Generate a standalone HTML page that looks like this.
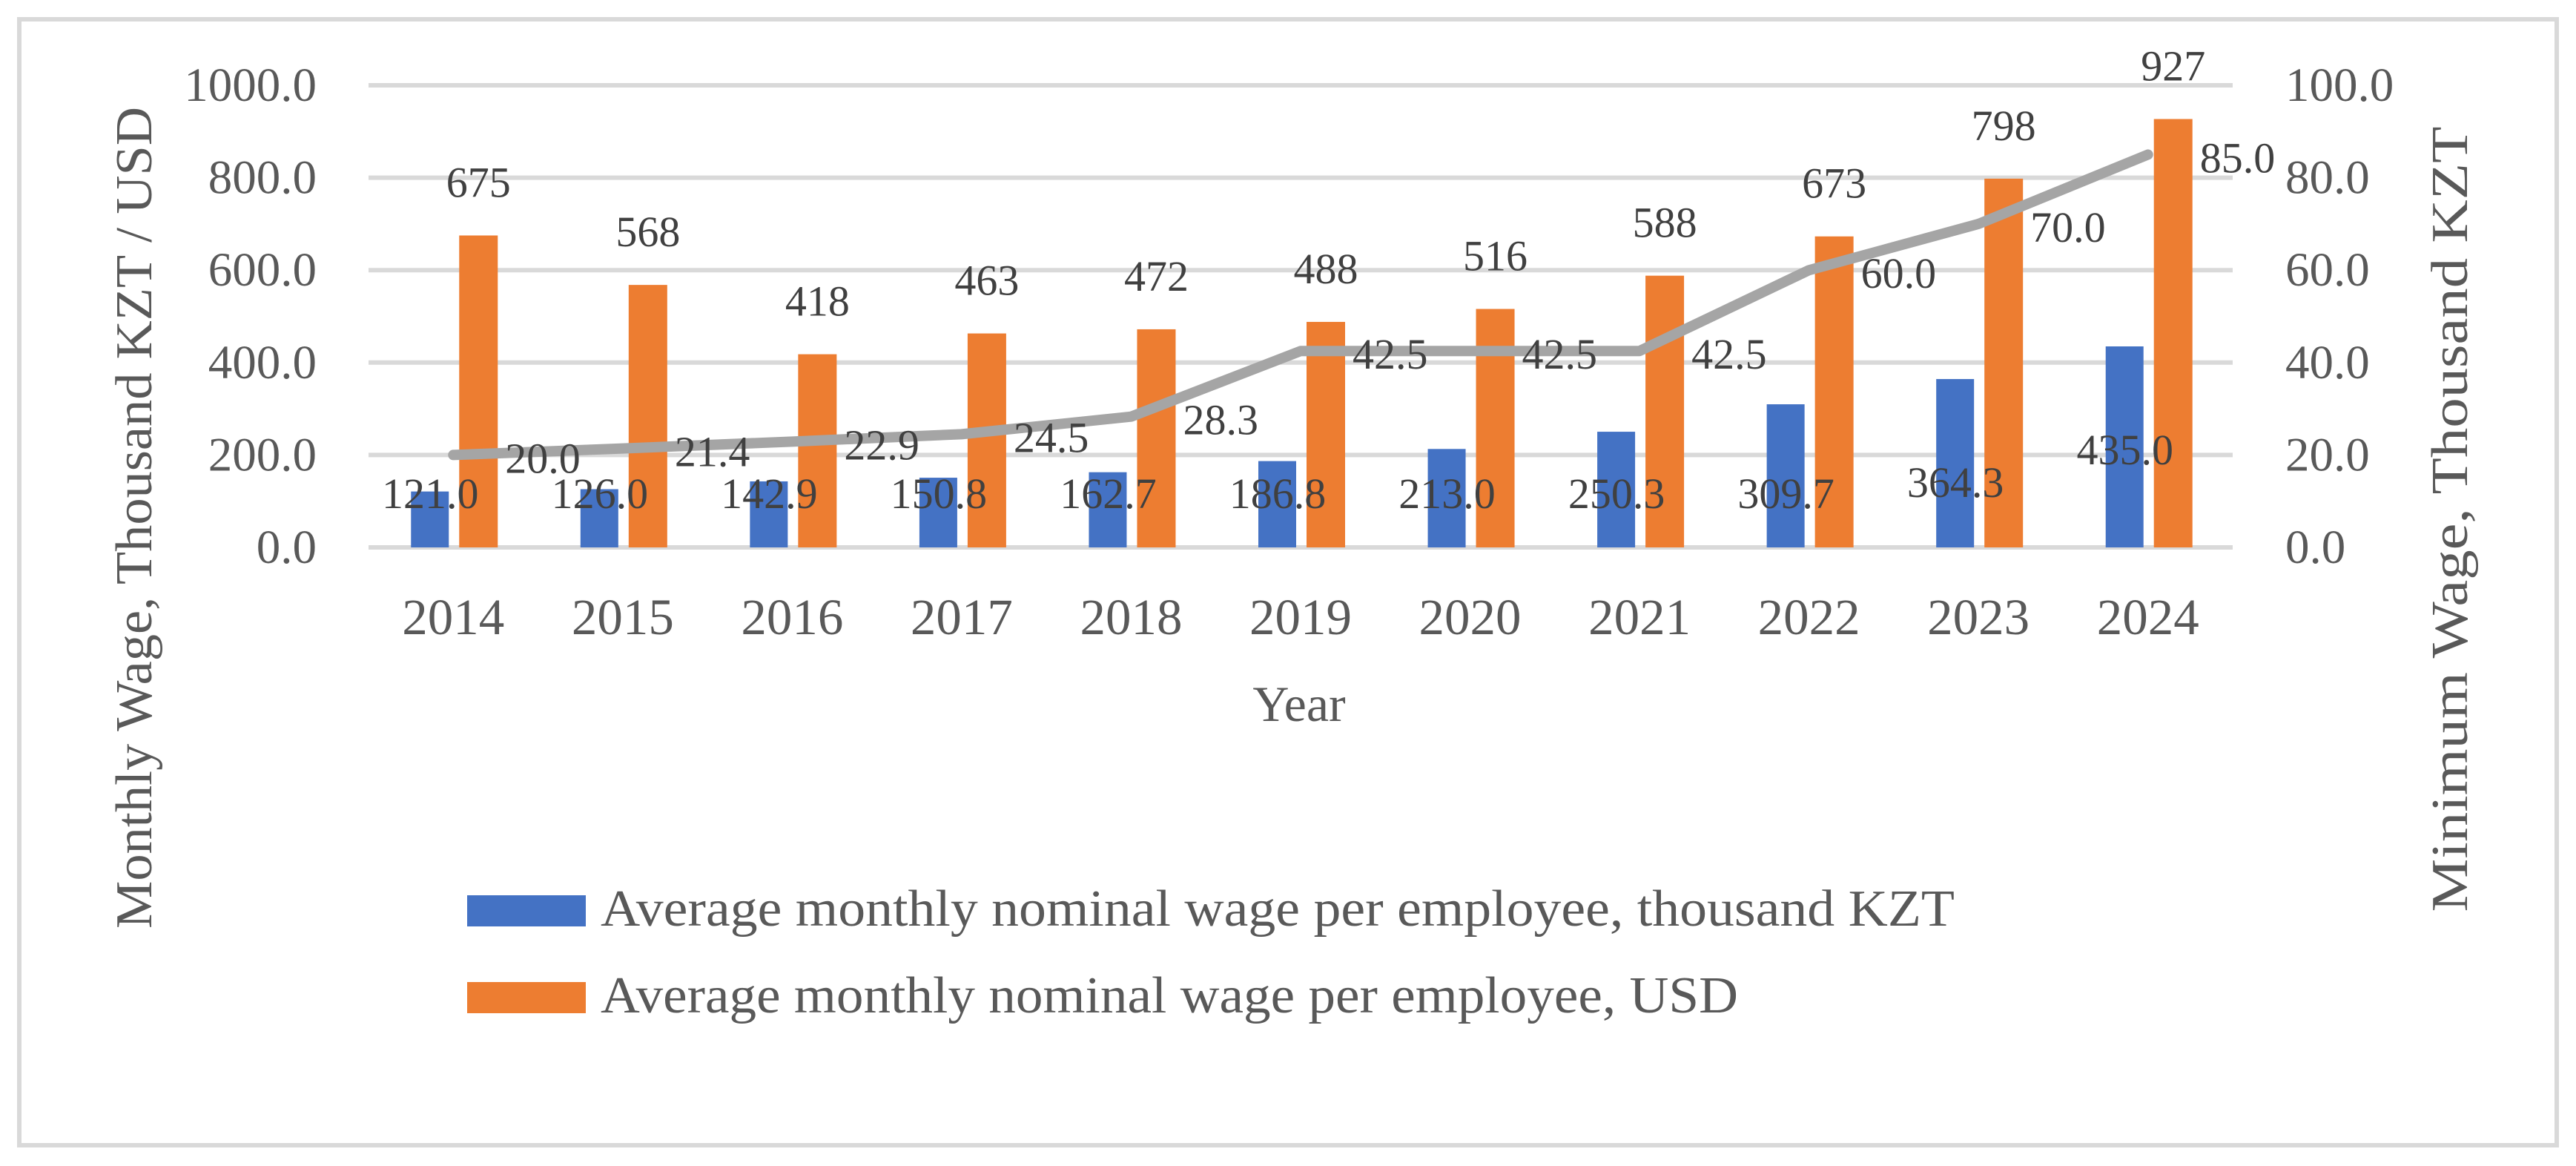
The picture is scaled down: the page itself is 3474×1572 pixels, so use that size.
<!DOCTYPE html>
<html><head><meta charset="utf-8"><style>
html,body{margin:0;padding:0;background:#fff}
svg{display:block}
text{font-family:"Liberation Serif",serif}
</style></head><body>
<svg id="chart" width="3474" height="1572" viewBox="0 0 3474 1572" xmlns="http://www.w3.org/2000/svg">
<rect x="26" y="26" width="3422" height="1518" fill="#fff" stroke="#D9D9D9" stroke-width="6"/>
<g id="grid"></g><g id="bars"></g><g id="line"></g><g id="labels"></g><g id="axes"></g>
<text transform="translate(204,698) rotate(-90)" text-anchor="middle" font-size="70" fill="#595959" textLength="1108" lengthAdjust="spacingAndGlyphs">Monthly Wage, Thousand KZT / USD</text>
<text transform="translate(3327,700) rotate(-90)" text-anchor="middle" font-size="70" fill="#595959" textLength="1059" lengthAdjust="spacingAndGlyphs">Minimum Wage, Thousand KZT</text>
<text x="1752" y="972" text-anchor="middle" font-size="68" fill="#595959">Year</text>
<g>
<rect x="630" y="1207" width="160" height="42" fill="#4472C4"/>
<text x="810" y="1248" font-size="70" fill="#595959" textLength="1826" lengthAdjust="spacingAndGlyphs">Average monthly nominal wage per employee, thousand KZT</text>
<rect x="630" y="1324" width="160" height="42" fill="#ED7D31"/>
<text x="810" y="1365" font-size="70" fill="#595959" textLength="1534" lengthAdjust="spacingAndGlyphs">Average monthly nominal wage per employee, USD</text>
</g>
</svg>
<script>
const years = ["2014","2015","2016","2017","2018","2019","2020","2021","2022","2023","2024"];
const kztWage = [121.0,126.0,142.9,150.8,162.7,186.8,213.0,250.3,309.7,364.3,435.0];
const usdWage = [675,568,418,463,472,488,516,588,673,798,927];
const minWage = [20.0,21.4,22.9,24.5,28.3,42.5,42.5,42.5,60.0,70.0,85.0];
const leftTicks = [0,200,400,600,800,1000];
const rightTicks = [0,20,40,60,80,100];

const NS="http://www.w3.org/2000/svg";
const X0=497,X1=3011,Y0=738,Y1=115;
const band=(X1-X0)/years.length;
const xc=i=>X0+band*(i+0.5);
const yL=v=>Y0-(v/1000)*(Y0-Y1);
const yR=v=>Y0-(v/100)*(Y0-Y1);
function mk(tag,attrs,parent,txt){const e=document.createElementNS(NS,tag);for(const k in attrs)e.setAttribute(k,attrs[k]);if(txt!==undefined)e.textContent=txt;document.getElementById(parent).appendChild(e);return e;}

leftTicks.forEach((t,i)=>{
  const g=mk('line',{x1:X0,x2:X1,y1:yL(t),y2:yL(t),stroke:'#D9D9D9','stroke-width':6},'grid');
  
  
  const l=mk('text',{x:427,y:yL(t)+21,'text-anchor':'end','font-size':65,fill:'#595959'},'axes',t.toFixed(1));
  
  
});
rightTicks.forEach(t=>{
  const l=mk('text',{x:3082,y:yR(t)+21,'font-size':65,fill:'#595959'},'axes',t.toFixed(1));
  
  
});
years.forEach((y,i)=>{
  const l=mk('text',{x:xc(i),y:855,'text-anchor':'middle','font-size':69,fill:'#595959'},'axes',y);
  
  
  const b=mk('rect',{x:xc(i)-57,y:yL(kztWage[i]),width:51,height:Y0-yL(kztWage[i]),fill:'#4472C4'},'bars');
  
  
  const o=mk('rect',{x:xc(i)+8,y:yL(usdWage[i]),width:52,height:Y0-yL(usdWage[i]),fill:'#ED7D31'},'bars');
  
  
});
let d=minWage.map((v,i)=>(i?'L':'M')+xc(i)+','+yR(v)).join(' ');
const p=mk('path',{d:d,fill:'none',stroke:'#A5A5A5','stroke-width':14,'stroke-linecap':'round','stroke-linejoin':'round'},'line');


years.forEach((y,i)=>{
  const bc=Math.min(666, yL(kztWage[i])+140);
  const a=mk('text',{x:xc(i)-31,y:bc+19,'text-anchor':'middle','font-size':58,fill:'#404040'},'labels',kztWage[i].toFixed(1));
  
  
  const b=mk('text',{x:xc(i)+34,y:yL(usdWage[i])-71+19,'text-anchor':'middle','font-size':58,fill:'#404040'},'labels',String(usdWage[i]));
  
  
  const c=mk('text',{x:xc(i)+70,y:yR(minWage[i])+24,'font-size':58,fill:'#404040'},'labels',minWage[i].toFixed(1));
  
  
});
</script>
</body></html>
